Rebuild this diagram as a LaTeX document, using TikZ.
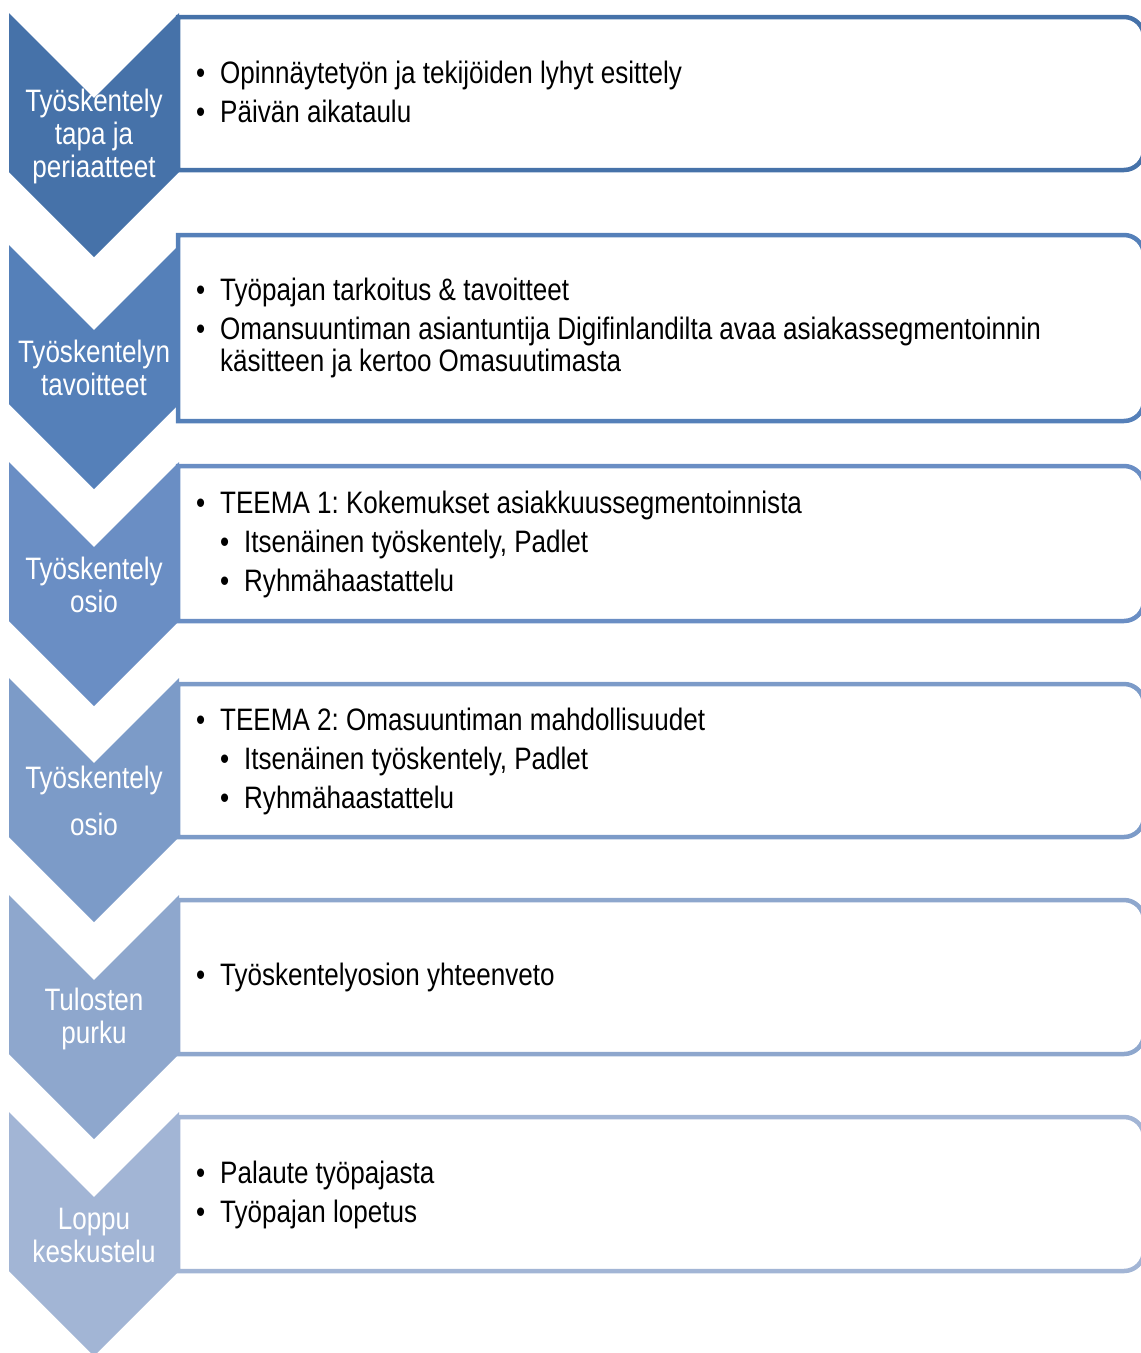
\documentclass[tikz,border=0pt]{standalone}
\usepackage{fontspec}
\setmainfont{Liberation Sans}[FakeStretch=0.84]
\usepackage{tikz}
\usetikzlibrary{positioning}

\definecolor{stepA}{HTML}{4672A9}
\definecolor{stepB}{HTML}{5580B9}
\definecolor{stepC}{HTML}{6A8EC4}
\definecolor{stepD}{HTML}{7C9BC8}
\definecolor{stepE}{HTML}{8EA7CD}
\definecolor{stepF}{HTML}{A2B5D5}

\newcommand{\bul}{\makebox[24pt][l]{\textbullet}}
\newcommand{\subbul}{\hspace*{24pt}\makebox[24pt][l]{\textbullet}}
\frenchspacing

\begin{document}
\begin{tikzpicture}[
  x=1pt, y=-1pt,
  chevlabel/.style={
    text=white, align=center, inner sep=0pt,
    font=\fontsize{31}{33}\selectfont
  },
  itemlist/.style={
    anchor=west, align=left, inner sep=0pt,
    font=\fontsize{31}{32}\selectfont
  },
  boxline/.style={line width=4.5pt, fill=white}
]
\useasboundingbox (0,0) rectangle (1141,1353);

% =====================================================
% STEP 1
% =====================================================

\draw[boxline, draw=stepA] (178,93) -- (178,17) [rounded corners=20] -- (1144,17) -- (1144,170) [sharp corners] -- (178,170) -- cycle;
\fill[stepA] (9,13) -- (94,98) -- (179,13) -- (179,172) -- (94,257) -- (9,172) -- cycle;

\node[chevlabel] (step1) at (94,136)
{Työskentely\\tapa ja\\periaatteet};

\node[itemlist] (items1) at (196,92)
{\bul Opinnäytetyön ja tekijöiden lyhyt esittely\\[7pt]
 \bul Päivän aikataulu};

% =====================================================
% STEP 2
% =====================================================

\draw[boxline, draw=stepB] (178,328) -- (178,235) [rounded corners=20] -- (1144,235) -- (1144,421) [sharp corners] -- (178,421) -- cycle;
\fill[stepB] (9,245) -- (94,330) -- (179,245) -- (179,404) -- (94,489) -- (9,404) -- cycle;

\node[chevlabel] (step2) at (94,368)
{Työskentelyn\\tavoitteet};

\node[itemlist] (items2) at (196,328)
{\bul Työpajan tarkoitus \& tavoitteet\\[7pt]
 \bul Omansuuntiman asiantuntija Digifinlandilta avaa asiakassegmentoinnin\\
 \hspace*{24pt}käsitteen ja kertoo Omasuutimasta};

% =====================================================
% STEP 3
% =====================================================

\draw[boxline, draw=stepC] (178,543) -- (178,466) [rounded corners=20] -- (1144,466) -- (1144,621) [sharp corners] -- (178,621) -- cycle;
\fill[stepC] (9,462) -- (94,547) -- (179,462) -- (179,621) -- (94,706) -- (9,621) -- cycle;

\node[chevlabel] (step3) at (94,585)
{Työskentely\\osio};

\node[itemlist] (items3) at (196,544)
{\bul TEEMA 1: Kokemukset asiakkuussegmentoinnista\\[7pt]
 \subbul Itsenäinen työskentely, Padlet\\[7pt]
 \subbul Ryhmähaastattelu};

% =====================================================
% STEP 4
% =====================================================

\draw[boxline, draw=stepD] (178,760) -- (178,684) [rounded corners=20] -- (1144,684) -- (1144,837) [sharp corners] -- (178,837) -- cycle;
\fill[stepD] (9,678) -- (94,763) -- (179,678) -- (179,837) -- (94,922) -- (9,837) -- cycle;

\node[chevlabel] (step4) at (94,801)
{Työskentely\\[14pt]osio};

\node[itemlist] (items4) at (196,761)
{\bul TEEMA 2: Omasuuntiman mahdollisuudet\\[7pt]
 \subbul Itsenäinen työskentely, Padlet\\[7pt]
 \subbul Ryhmähaastattelu};

% =====================================================
% STEP 5
% =====================================================

\draw[boxline, draw=stepE] (178,977) -- (178,900) [rounded corners=20] -- (1144,900) -- (1144,1054) [sharp corners] -- (178,1054) -- cycle;
\fill[stepE] (9,895) -- (94,980) -- (179,895) -- (179,1054) -- (94,1139) -- (9,1054) -- cycle;

\node[chevlabel] (step5) at (94,1019)
{Tulosten\\purku};

\node[itemlist] (items5) at (196,977)
{\bul Työskentelyosion yhteenveto};

% =====================================================
% STEP 6
% =====================================================

\draw[boxline, draw=stepF] (178,1194) -- (178,1117) [rounded corners=20] -- (1144,1117) -- (1144,1271) [sharp corners] -- (178,1271) -- cycle;
\fill[stepF] (9,1112) -- (94,1197) -- (179,1112) -- (179,1271) -- (94,1356) -- (9,1271) -- cycle;

\node[chevlabel] (step6) at (94,1235)
{Loppu\\keskustelu};

\node[itemlist] (items6) at (196,1195)
{\bul Palaute työpajasta\\[7pt]
 \bul Työpajan lopetus};

\end{tikzpicture}
\end{document}
